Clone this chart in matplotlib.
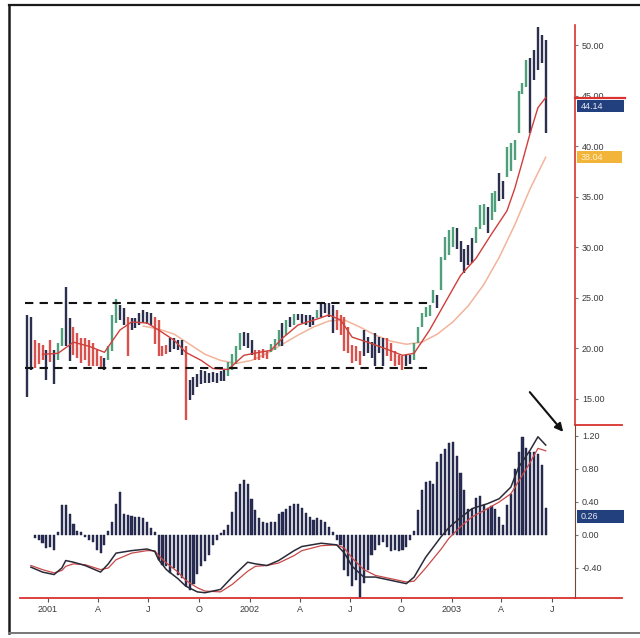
#!/usr/bin/env python3
"""
Weekly bar chart 2001-2003 with two moving averages, breakout box
(dashed support / resistance) and a MACD-style histogram panel below.
Values read by eye off a scanned chart.
"""
import matplotlib
matplotlib.use("Agg")
import matplotlib.pyplot as plt
import matplotlib.dates as mdates
from matplotlib.lines import Line2D
from matplotlib.patches import Rectangle
from matplotlib.ticker import FuncFormatter
from matplotlib.transforms import blended_transform_factory
import pandas as pd

plt.rcParams["font.family"] = ["Liberation Sans", "DejaVu Sans"]

# ───────────────────────── DATA (weekly bars) ─────────────────────────
FIRST_WEEK = "2000-11-24"

high = [23.3, 23.1, 20.8, 20.5, 20.3, 19.8, 20.8, 19.8, 20.5, 22.0,
        26.1, 23.0, 22.1, 21.5, 21.0, 21.0, 20.8, 20.5, 19.8, 19.2,
        19.0, 20.2, 23.3, 24.9, 24.3, 24.0, 23.1, 23.0, 23.0, 23.5,
        23.8, 23.6, 23.5, 23.1, 22.8, 20.2, 20.3, 21.0, 21.0, 20.8,
        20.8, 20.2, 16.9, 17.2, 17.5, 17.9, 17.8, 17.6, 17.7, 17.6,
        17.8, 17.9, 18.6, 19.4, 20.2, 21.5, 21.6, 21.5, 20.8, 19.8,
        19.8, 19.9, 19.7, 20.4, 20.9, 21.8, 22.5, 22.8, 23.1, 23.4,
        23.4, 23.4, 23.3, 23.3, 23.1, 23.8, 24.5, 24.5, 24.5, 24.3,
        23.8, 23.3, 23.1, 22.1, 20.3, 20.2, 19.7, 21.8, 21.1, 20.6,
        21.5, 21.1, 21.0, 21.0, 20.5, 19.7, 19.3, 19.2, 19.3, 19.3,
        20.5, 22.1, 23.5, 24.1, 24.3, 25.8, 25.3, 29.0, 31.0, 31.7,
        32.0, 31.9, 30.6, 29.8, 30.2, 30.9, 32.0, 34.2, 34.3, 34.0,
        35.4, 35.6, 37.3, 36.5, 39.9, 40.3, 40.6, 45.5, 46.2, 48.5,
        48.7, 49.5, 51.8, 51.0, 50.5]
low = [15.2, 17.9, 18.0, 18.4, 18.8, 16.9, 18.6, 16.5, 18.8, 20.2,
       20.2, 18.7, 19.3, 19.0, 18.5, 18.8, 18.2, 18.2, 18.2, 18.0,
       17.9, 18.8, 19.7, 22.5, 22.8, 22.3, 19.2, 21.8, 22.0, 22.3,
       22.5, 22.4, 22.3, 20.4, 19.2, 19.2, 19.4, 19.6, 19.9, 19.8,
       19.3, 12.9, 14.9, 15.4, 16.2, 16.5, 16.6, 16.6, 16.7, 16.6,
       16.8, 16.8, 17.3, 17.9, 18.4, 19.8, 20.2, 20.0, 19.3, 18.8,
       18.8, 19.0, 18.9, 19.6, 19.8, 20.2, 20.2, 21.3, 22.1, 22.3,
       22.8, 22.5, 22.3, 22.1, 22.3, 23.0, 23.1, 23.5, 23.1, 21.5,
       21.8, 21.3, 19.7, 19.5, 18.5, 18.7, 18.3, 19.2, 19.5, 19.0,
       18.2, 19.5, 18.2, 19.2, 18.7, 18.2, 18.3, 17.9, 18.2, 18.4,
       18.8, 20.5, 22.1, 23.1, 23.2, 24.5, 24.0, 25.8, 28.7, 29.2,
       30.0, 29.8, 28.5, 27.4, 28.2, 28.4, 30.4, 31.8, 32.2, 31.4,
       32.7, 33.5, 34.6, 34.8, 36.9, 37.5, 38.6, 41.3, 45.2, 45.8,
       41.3, 46.5, 47.5, 48.2, 41.3]
# k = neutral (dark), g = up, r = down
bar_color = ("kkrrrkrkgg" "kkrrrrrrrr" "kgggkkrkkk" "kkkrrrrkkk"
             "krkkkkkkkk" "kkggggkkkr" "rrrgggkgkg" "kkkkkgkkkk"
             "rrrrrrrkkk" "kkkrrrrrkk" "ggggggkggg" "gkkkkkgggk"
             "ggkkgggggg" "kkkkk")

# short (red) and long (pale) moving averages, read at these bars
ma_short_idx = [4, 8, 12, 16, 20, 24, 27, 31, 34, 38, 41, 45, 48, 52, 56, 60, 63, 66, 70,
                75, 78, 81, 84, 88, 93, 97, 100, 104, 108, 112, 116, 120, 124, 126, 128,
                130, 132, 134]
ma_short = [19.4, 19.5, 20.6, 20.2, 19.6, 21.8, 22.6, 22.5, 21.8, 20.8, 19.6, 18.8, 18.0,
            17.9, 19.3, 19.6, 19.8, 21.0, 22.3, 22.9, 23.3, 22.8, 21.1, 20.6, 19.9, 19.3,
            19.5, 21.8, 24.5, 27.2, 28.9, 31.3, 33.6, 35.8, 38.5, 41.3, 43.8, 44.8]
ma_long_idx = [30, 34, 38, 42, 46, 50, 54, 58, 62, 66, 70, 74, 78, 82, 86, 90, 94, 98, 102,
               106, 110, 114, 118, 122, 126, 130, 134]
ma_long = [22.2, 21.9, 21.4, 20.4, 19.4, 18.8, 18.5, 18.8, 19.5, 20.4, 21.3, 22.1, 22.7,
           22.8, 22.1, 21.3, 20.7, 20.4, 20.6, 21.4, 22.6, 24.2, 26.3, 29.0, 32.2, 35.8, 38.9]

# histogram starts at bar 2
HIST_START = 2
hist = [-0.04, -0.06, -0.10, -0.16, -0.14, -0.18, 0.03, 0.36, 0.36, 0.25,
        0.13, 0.05, 0.03, -0.03, -0.06, -0.08, -0.18, -0.22, -0.12, 0.05,
        0.16, 0.38, 0.52, 0.25, 0.24, 0.23, 0.22, 0.22, 0.20, 0.16,
        0.08, 0.04, -0.30, -0.36, -0.38, -0.46, -0.40, -0.48, -0.52, -0.62,
        -0.67, -0.60, -0.47, -0.38, -0.32, -0.24, -0.12, -0.06, 0.02, 0.06,
        0.12, 0.28, 0.52, 0.62, 0.67, 0.62, 0.43, 0.30, 0.20, 0.16,
        0.15, 0.16, 0.16, 0.26, 0.28, 0.31, 0.35, 0.37, 0.38, 0.33,
        0.27, 0.22, 0.18, 0.20, 0.18, 0.16, 0.10, 0.04, -0.06, -0.12,
        -0.42, -0.50, -0.62, -0.55, -0.75, -0.58, -0.42, -0.24, -0.18, -0.12,
        -0.08, -0.14, -0.20, -0.18, -0.20, -0.18, -0.15, -0.06, 0.05, 0.30,
        0.55, 0.64, 0.66, 0.62, 0.88, 0.98, 1.04, 1.11, 1.13, 0.96,
        0.75, 0.55, 0.32, 0.32, 0.45, 0.47, 0.36, 0.33, 0.35, 0.32,
        0.22, 0.12, 0.36, 0.50, 0.80, 1.00, 1.19, 1.05, 1.00, 1.00,
        0.98, 0.85, 0.33]

macd_idx = [1, 4, 7, 9, 10, 12, 15, 19, 21, 23, 27, 31, 33, 34, 36, 39, 41, 44, 46, 50,
            53, 57, 59, 62, 65, 69, 71, 76, 80, 82, 84, 87, 90, 94, 98, 100, 103, 107,
            109, 112, 115, 119, 122, 125, 127, 130, 132, 134]
macd_line = [-0.39, -0.45, -0.48, -0.40, -0.31, -0.33, -0.37, -0.45, -0.35, -0.22,
             -0.19, -0.17, -0.20, -0.30, -0.42, -0.53, -0.62, -0.69, -0.70, -0.66,
             -0.51, -0.33, -0.35, -0.37, -0.31, -0.19, -0.14, -0.10, -0.12, -0.22,
             -0.38, -0.51, -0.51, -0.55, -0.59, -0.51, -0.27, -0.02, 0.09, 0.21,
             0.32, 0.38, 0.44, 0.58, 0.82, 1.03, 1.19, 1.09]
macd_signal = [-0.37, -0.42, -0.46, -0.43, -0.38, -0.35, -0.36, -0.42, -0.40, -0.30,
               -0.22, -0.19, -0.19, -0.25, -0.34, -0.45, -0.55, -0.64, -0.68, -0.69,
               -0.60, -0.44, -0.38, -0.37, -0.34, -0.25, -0.19, -0.13, -0.12, -0.16,
               -0.28, -0.42, -0.49, -0.53, -0.57, -0.56, -0.40, -0.17, -0.04, 0.10,
               0.22, 0.32, 0.40, 0.50, 0.65, 0.88, 1.05, 1.02]

resist_level, support_level = 24.5, 18.0
resist_end, support_end = 105, 104          # bar where each dashed line stops
price_ticks = [15, 20, 25, 30, 35, 40, 45, 50]
macd_ticks = [1.2, 0.8, 0.4, 0.0, -0.4]
last_close_label = "44.14"
long_ma_label = "38.04"
macd_label_value = 0.26

# ───────────────────────── STYLE ─────────────────────────
W, H = 640, 638
COLORS = {"k": "#2c2f4d", "g": "#4f9e7c", "r": "#d9514c"}
RED_AXIS = "#d8332e"
TXT = "#3a3a3a"

def px_box(left, top, right, bottom):
    return [left / W, 1 - bottom / H, (right - left) / W, (bottom - top) / H]

dates = pd.date_range(FIRST_WEEK, periods=len(high), freq="7D")
x0 = dates[0]

fig = plt.figure(figsize=(W / 100, H / 100), dpi=100, facecolor="white")
ax = fig.add_axes(px_box(20, 25, 575, 425))
ax2 = fig.add_axes(px_box(20, 425, 575, 598), sharex=ax)

# ── price panel
ax.vlines(dates, low, high, colors=[COLORS[c] for c in bar_color], lw=1.7, zorder=3)
ax.plot(dates[ma_long_idx], ma_long, color="#f2b49b", lw=1.1, zorder=2)
ax.plot(dates[ma_short_idx], ma_short, color="#cf3f3a", lw=1.0, zorder=4)
ax.hlines(resist_level, x0 - pd.Timedelta(days=3.5), dates[resist_end],
          colors="#111111", lw=1.5, linestyles=(0, (4, 3)), zorder=5)
ax.hlines(support_level, x0 - pd.Timedelta(days=3.5), dates[support_end],
          colors="#111111", lw=1.5, linestyles=(0, (4, 3)), zorder=5)

ax.set_ylim(12.41, 51.98)
ax.set_xlim(x0 - pd.Timedelta(days=12.7), x0 + pd.Timedelta(days=991))
ax.yaxis.tick_right()
ax.set_yticks(price_ticks)
ax.set_yticklabels([f"{v:.2f}" for v in price_ticks])
ax.tick_params(axis="y", labelsize=6.5, length=2, color="#777777", labelcolor=TXT, pad=3)
ax.tick_params(axis="x", bottom=False, labelbottom=False)
for s in ("left", "top", "bottom"):
    ax.spines[s].set_visible(False)
ax.spines["right"].set_color(RED_AXIS)
ax.spines["right"].set_linewidth(1.2)

bt = blended_transform_factory(ax.transAxes, ax.transData)
ax.plot([1.0, 1.09], [ma_short[-1], ma_short[-1]], transform=bt, color=RED_AXIS,
        lw=1.6, clip_on=False, zorder=6)
ax.add_patch(Rectangle((1.003, 43.35), 0.085, 1.2, transform=bt, facecolor="#23407e",
                       edgecolor="none", clip_on=False, zorder=6))
ax.text(1.01, 43.95, last_close_label, transform=bt, fontsize=6.5, color="#e8e8f0",
        va="center", ha="left", zorder=7, clip_on=False)
ax.add_patch(Rectangle((1.003, ma_long[-1] - 0.6), 0.082, 1.2, transform=bt,
                       facecolor="#f3b43a", edgecolor="none", clip_on=False, zorder=6))
ax.text(1.01, ma_long[-1], long_ma_label, transform=bt, fontsize=6.5, color="#fff3d0",
        va="center", ha="left", zorder=7, clip_on=False)

# ── MACD panel
ax2.bar(dates[HIST_START:], hist, width=3.8, color="#2a2e57", edgecolor="#1b1d3a",
        lw=0.3, zorder=3)
ax2.plot(dates[macd_idx], macd_signal, color="#c94848", lw=0.9, zorder=4)
ax2.plot(dates[macd_idx], macd_line, color="#2a2a38", lw=1.1, zorder=5)
ax2.set_ylim(-0.764, 1.333)
ax2.yaxis.tick_right()
ax2.set_yticks(macd_ticks)
ax2.set_yticklabels([f"{v:.2f}" for v in macd_ticks])
ax2.tick_params(axis="y", labelsize=6.5, length=2, color="#777777", labelcolor=TXT, pad=3)

ax2.xaxis.set_major_locator(mdates.MonthLocator(bymonth=(1, 4, 7, 10)))
ax2.xaxis.set_major_formatter(FuncFormatter(
    lambda v, pos: (str(mdates.num2date(v).year) if mdates.num2date(v).month == 1
                    else mdates.num2date(v).strftime("%b")[0])))
ax2.tick_params(axis="x", labelsize=6.5, length=3, color="#555555", labelcolor=TXT, pad=2)
for s in ("left", "top"):
    ax2.spines[s].set_visible(False)
ax2.spines["right"].set_color("#7a4434")
ax2.spines["bottom"].set_color(RED_AXIS)
ax2.spines["bottom"].set_linewidth(1.3)
ax2.plot([1.0, 1.085], [0, 0], transform=ax2.transAxes, color=RED_AXIS, lw=1.3, clip_on=False)
ax2.plot([1.0, 1.085], [1, 1], transform=ax2.transAxes, color=RED_AXIS, lw=1.3, clip_on=False)

bt2 = blended_transform_factory(ax2.transAxes, ax2.transData)
ax2.add_patch(Rectangle((1.003, macd_label_value - 0.11), 0.085, 0.15, transform=bt2,
                        facecolor="#23407e", edgecolor="none", clip_on=False, zorder=6))
ax2.text(1.01, macd_label_value - 0.035, f"{macd_label_value:.2f}", transform=bt2,
         fontsize=6.5, color="#e8e8f0", va="center", ha="left", zorder=7, clip_on=False)

# arrow pointing at the MACD top
ax2.annotate("", xy=(565 / W, 1 - 434 / H), xytext=(528 / W, 1 - 390 / H),
             xycoords="figure fraction", textcoords="figure fraction",
             arrowprops=dict(arrowstyle="-|>", color="#111111", lw=1.5, mutation_scale=12),
             annotation_clip=False)

# scanned page frame
fig.add_artist(Line2D([9 / W, 9 / W], [1 - 5 / H, 1 - 633 / H], color="#1a1a1a", lw=1.8))
fig.add_artist(Line2D([9 / W, 1.0], [1 - 5 / H, 1 - 5 / H], color="#1a1a1a", lw=1.6))
fig.add_artist(Line2D([9 / W, 1.0], [1 - 633 / H, 1 - 633 / H], color="#777777", lw=1.4))

fig.savefig("out.png", dpi=100, facecolor="white")
